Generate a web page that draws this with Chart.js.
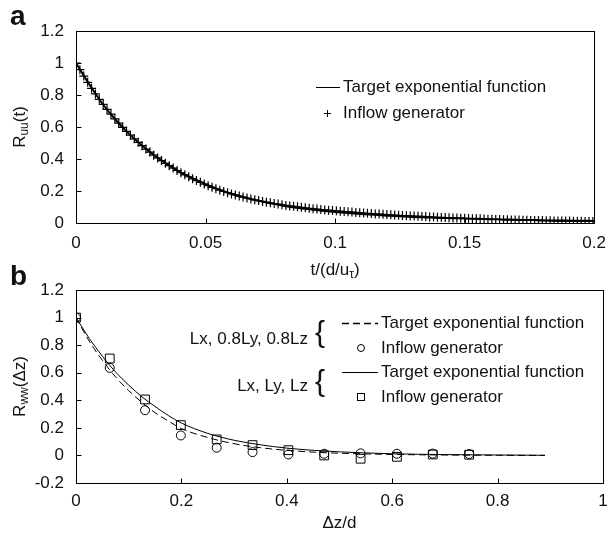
<!DOCTYPE html>
<html>
<head>
<meta charset="utf-8">
<script src="https://cdn.jsdelivr.net/npm/chart.js@4.4.1/dist/chart.umd.min.js"></script>
<style>
  html, body { margin: 0; padding: 0; background: #fff; }
  #wrap { position: relative; width: 616px; height: 534px; }
  canvas { position: absolute; left: 0; }
  #chartA { top: 0; }
  #chartB { top: 262px; }
</style>
</head>
<body>
<div id="wrap">
  <canvas id="chartA" width="616" height="285"></canvas>
  <canvas id="chartB" width="616" height="272"></canvas>
</div>
<script>
// ---- panel a : R_uu(t) ----
const tgtDtA = 0.005; // spacing of the read target curve
const tgtValsA = [1.0, 0.87, 0.75, 0.65, 0.565, 0.49, 0.425, 0.37, 0.32, 0.28,
  0.243, 0.21, 0.183, 0.16, 0.14, 0.123, 0.108, 0.096, 0.086, 0.077,
  0.069, 0.062, 0.056, 0.051, 0.046, 0.042, 0.038, 0.035, 0.032, 0.03,
  0.028, 0.026, 0.024, 0.022, 0.02, 0.019, 0.017, 0.016, 0.015, 0.014, 0.013];

const genDtA = 0.0015; // spacing of inflow generator samples
const genValsA = [1.000, 0.958, 0.918, 0.879, 0.842, 0.807, 0.773, 0.741, 0.710, 0.680,
  0.651, 0.624, 0.598, 0.573, 0.549, 0.526, 0.504, 0.483, 0.462, 0.443,
  0.424, 0.407, 0.390, 0.373, 0.358, 0.343, 0.328, 0.314, 0.301, 0.289,
  0.276, 0.265, 0.254, 0.243, 0.233, 0.223, 0.214, 0.205, 0.197, 0.189,
  0.182, 0.175, 0.168, 0.162, 0.156, 0.150, 0.145, 0.140, 0.135, 0.130,
  0.126, 0.122, 0.118, 0.114, 0.110, 0.107, 0.104, 0.101, 0.098, 0.095,
  0.092, 0.089, 0.087, 0.084, 0.082, 0.080, 0.078, 0.076, 0.074, 0.072,
  0.070, 0.068, 0.066, 0.064, 0.062, 0.061, 0.059, 0.057, 0.056, 0.054,
  0.053, 0.051, 0.050, 0.048, 0.047, 0.046, 0.044, 0.043, 0.042, 0.041,
  0.040, 0.038, 0.037, 0.036, 0.035, 0.034, 0.033, 0.032, 0.031, 0.030,
  0.029, 0.028, 0.027, 0.026, 0.026, 0.025, 0.024, 0.023, 0.022, 0.022,
  0.021, 0.020, 0.019, 0.019, 0.018, 0.017, 0.017, 0.016, 0.016, 0.015,
  0.015, 0.014, 0.014, 0.013, 0.013, 0.012, 0.012, 0.012, 0.011, 0.011,
  0.011, 0.010, 0.010, 0.010];

const xTicksA = [0, 0.05, 0.1, 0.15, 0.2];
const yTicksA = [0, 0.2, 0.4, 0.6, 0.8, 1, 1.2];

// ---- panel b : R_ww(dz) ----
const dzMarks = [0, 0.064, 0.131, 0.199, 0.267, 0.335, 0.403, 0.471, 0.54, 0.609, 0.677, 0.746];
const circVals = [1.0, 0.635, 0.328, 0.145, 0.056, 0.024, 0.007, 0.012, 0.015, 0.012, 0.013, 0.01];
const sqVals = [1.0, 0.703, 0.406, 0.22, 0.116, 0.075, 0.038, 0.0, -0.024, -0.01, 0.007, 0.005];

const dzCurve = [0, 0.025, 0.05, 0.075, 0.1, 0.125, 0.15, 0.175, 0.2, 0.25, 0.3, 0.35, 0.4, 0.45, 0.5, 0.55, 0.6, 0.7, 0.8, 0.89];
const dashedVals = [1.0, 0.83, 0.69, 0.57, 0.47, 0.385, 0.31, 0.25, 0.195, 0.13, 0.085, 0.056, 0.037, 0.024, 0.016, 0.011, 0.007, 0.003, 0.001, 0.0];
const solidVals = [1.0, 0.85, 0.72, 0.605, 0.51, 0.425, 0.355, 0.29, 0.235, 0.16, 0.11, 0.077, 0.053, 0.037, 0.026, 0.018, 0.012, 0.006, 0.003, 0.001];

const xTicksB = [0, 0.2, 0.4, 0.6, 0.8, 1];
const yTicksB = [-0.2, 0, 0.2, 0.4, 0.6, 0.8, 1, 1.2];

const FAMILY = "'Liberation Sans', Arial, Helvetica, sans-serif";
const BASE = '17px ' + FAMILY;
const SUB = '12px ' + FAMILY;
const INK = '#111';

function pts(xs, ys) { return ys.map((y, i) => ({ x: xs[i], y: y })); }
function stepPts(dt, ys) { return ys.map((y, i) => ({ x: +(i * dt).toFixed(4), y: y })); }

// text with subscripts, parts = [[text, isSub], ...], centred on cx
function drawRich(ctx, parts, cx, cy) {
  let w = 0;
  parts.forEach(p => { ctx.font = p[1] ? SUB : BASE; w += ctx.measureText(p[0]).width; });
  let x = cx - w / 2;
  ctx.textAlign = 'left';
  ctx.textBaseline = 'middle';
  parts.forEach(p => {
    ctx.font = p[1] ? SUB : BASE;
    ctx.fillText(p[0], x, cy + (p[1] ? 5 : 0));
    x += ctx.measureText(p[0]).width;
  });
}

// box around plot + inward tick marks
const framePlugin = {
  id: 'frame',
  afterDraw(chart) {
    const ctx = chart.ctx, a = chart.chartArea;
    const L = Math.round(a.left) + 0.5, R = Math.round(a.right) + 0.5;
    const T = Math.round(a.top) + 0.5, B = Math.round(a.bottom) + 0.5;
    ctx.save();
    ctx.strokeStyle = '#000';
    ctx.lineWidth = 1;
    ctx.strokeRect(L, T, R - L, B - T);
    ctx.beginPath();
    chart.scales.x.ticks.forEach(t => {
      const px = Math.round(chart.scales.x.getPixelForValue(t.value)) + 0.5;
      if (px > L + 1 && px < R - 1) { ctx.moveTo(px, B); ctx.lineTo(px, B - 5); }
    });
    chart.scales.y.ticks.forEach(t => {
      const py = Math.round(chart.scales.y.getPixelForValue(t.value)) + 0.5;
      if (py > T + 1 && py < B - 1) { ctx.moveTo(L, py); ctx.lineTo(L + 5, py); }
    });
    ctx.stroke();
    ctx.restore();
  }
};

function axisOpts(min, max, ticks, pad, fit) {
  return {
    type: 'linear', min: min, max: max,
    afterBuildTicks: s => { s.ticks = ticks.map(v => ({ value: v })); },
    ticks: { callback: v => String(v), font: { family: FAMILY, size: 17 }, color: INK, padding: pad, maxRotation: 0, autoSkip: false },
    grid: { display: false, drawTicks: false },
    border: { display: false },
    afterFit: fit
  };
}

// ---------- chart a ----------
const decoA = {
  id: 'decoA',
  afterDraw(chart) {
    const ctx = chart.ctx, a = chart.chartArea;
    const ds = chart.data.datasets;
    ctx.save();
    ctx.fillStyle = INK;
    ctx.font = 'bold 28px ' + FAMILY;
    ctx.textAlign = 'left'; ctx.textBaseline = 'alphabetic';
    ctx.fillText('a', 10, 25);
    // axis titles
    drawRich(ctx, [['t/(d/u', false], ['τ', true], [')', false]], (a.left + a.right) / 2, 270);
    ctx.save();
    ctx.translate(20, (a.top + a.bottom) / 2);
    ctx.rotate(-Math.PI / 2);
    drawRich(ctx, [['R', false], ['uu', true], ['(t)', false]], 0, 0);
    ctx.restore();
    // legend
    ctx.strokeStyle = '#000';
    ctx.lineWidth = 1;
    ctx.beginPath(); ctx.moveTo(316, 87.5); ctx.lineTo(340, 87.5); ctx.stroke();
    ctx.beginPath();
    ctx.moveTo(324, 113.5); ctx.lineTo(331, 113.5);
    ctx.moveTo(327.5, 110); ctx.lineTo(327.5, 117);
    ctx.stroke();
    ctx.font = BASE; ctx.textAlign = 'left'; ctx.textBaseline = 'middle';
    ctx.fillText(ds[0].label, 343, 87);
    ctx.fillText(ds[1].label, 343, 113);
    ctx.restore();
  }
};

new Chart(document.getElementById('chartA'), {
  type: 'scatter',
  data: {
    datasets: [
      { label: 'Target exponential function', data: stepPts(tgtDtA, tgtValsA), showLine: true, pointRadius: 0,
        borderColor: '#000', borderWidth: 2, cubicInterpolationMode: 'monotone', order: 2 },
      { label: 'Inflow generator', data: stepPts(genDtA, genValsA), showLine: false, pointStyle: 'cross',
        pointRadius: 4.5, borderColor: '#000', borderWidth: 1.2, order: 1 }
    ]
  },
  options: {
    responsive: false, animation: false, devicePixelRatio: 1, events: [],
    layout: { padding: { top: 31, right: 13, left: 0, bottom: 0 } },
    plugins: { legend: { display: false }, tooltip: { enabled: false } },
    scales: {
      x: axisOpts(0, 0.2, xTicksA, 10, s => { s.height = 285 - 223; }),
      y: axisOpts(0, 1.2, yTicksA, 12, s => { s.width = 76; })
    }
  },
  plugins: [framePlugin, decoA]
});

// ---------- chart b ----------
const decoB = {
  id: 'decoB',
  afterDraw(chart) {
    const ctx = chart.ctx, a = chart.chartArea;
    const ds = chart.data.datasets;
    ctx.save();
    ctx.fillStyle = INK;
    ctx.font = 'bold 28px ' + FAMILY;
    ctx.textAlign = 'left'; ctx.textBaseline = 'alphabetic';
    ctx.fillText('b', 10, 23);
    drawRich(ctx, [['Δz/d', false]], (a.left + a.right) / 2, 261);
    ctx.save();
    ctx.translate(20, (a.top + a.bottom) / 2);
    ctx.rotate(-Math.PI / 2);
    drawRich(ctx, [['R', false], ['ww', true], ['(Δz)', false]], 0, 0);
    ctx.restore();

    // legend groups
    ctx.font = BASE; ctx.textAlign = 'right'; ctx.textBaseline = 'middle';
    ctx.fillText('Lx, 0.8Ly, 0.8Lz', 308, 77);
    ctx.fillText('Lx, Ly, Lz', 308, 124);
    ctx.font = '30px ' + FAMILY; ctx.textAlign = 'center';
    ctx.fillText('{', 320, 72);
    ctx.fillText('{', 320, 121);

    ctx.strokeStyle = '#000';
    ctx.lineWidth = 1.5;
    ctx.setLineDash([7, 4]);
    ctx.beginPath(); ctx.moveTo(342, 61.5); ctx.lineTo(378, 61.5); ctx.stroke();
    ctx.setLineDash([]);
    ctx.lineWidth = 1;
    ctx.beginPath(); ctx.moveTo(342, 110.5); ctx.lineTo(378, 110.5); ctx.stroke();
    ctx.beginPath(); ctx.arc(361, 86, 3.5, 0, Math.PI * 2); ctx.stroke();
    ctx.strokeRect(357.5, 131.5, 7, 7);

    ctx.font = BASE; ctx.textAlign = 'left'; ctx.textBaseline = 'middle';
    ctx.fillText(ds[0].label, 381, 61);
    ctx.fillText(ds[1].label, 381, 86);
    ctx.fillText(ds[2].label, 381, 110);
    ctx.fillText(ds[3].label, 381, 135);
    ctx.restore();
  }
};

new Chart(document.getElementById('chartB'), {
  type: 'scatter',
  data: {
    datasets: [
      { label: 'Target exponential function', data: pts(dzCurve, dashedVals), showLine: true, pointRadius: 0,
        borderColor: '#000', borderWidth: 1, borderDash: [7, 4], cubicInterpolationMode: 'monotone' },
      { label: 'Inflow generator', data: pts(dzMarks, circVals), showLine: false, pointStyle: 'circle',
        pointRadius: 4.5, borderColor: '#000', backgroundColor: 'rgba(0,0,0,0)', borderWidth: 1 },
      { label: 'Target exponential function', data: pts(dzCurve, solidVals), showLine: true, pointRadius: 0,
        borderColor: '#000', borderWidth: 1, cubicInterpolationMode: 'monotone' },
      { label: 'Inflow generator', data: pts(dzMarks, sqVals), showLine: false, pointStyle: 'rect',
        pointRadius: 6.2, borderColor: '#000', backgroundColor: 'rgba(0,0,0,0)', borderWidth: 1 }
    ]
  },
  options: {
    responsive: false, animation: false, devicePixelRatio: 1, events: [],
    layout: { padding: { top: 28, right: 13, left: 0, bottom: 0 } },
    plugins: { legend: { display: false }, tooltip: { enabled: false } },
    scales: {
      x: axisOpts(0, 1, xTicksB, 8, s => { s.height = 272 - 221; }),
      y: axisOpts(-0.2, 1.2, yTicksB, 12, s => { s.width = 76; })
    }
  },
  plugins: [framePlugin, decoB]
});
</script>
</body>
</html>
